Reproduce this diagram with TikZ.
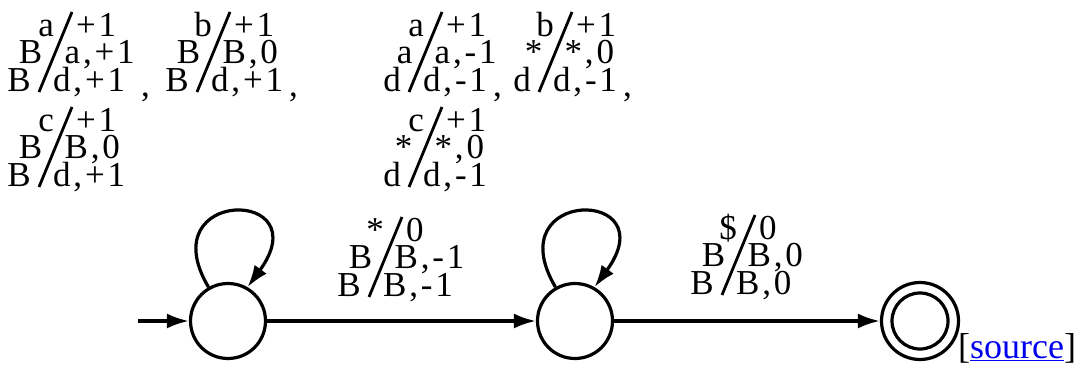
\documentclass[tikz,border=0pt]{standalone}
\usepackage{fontspec}
\setmainfont{Liberation Serif}
\usetikzlibrary{arrows.meta}
\definecolor{linkblue}{RGB}{0,0,238}
\tikzset{
  lblbase/.style={inner sep=0pt, font=\fontsize{35}{35}\selectfont},
  lft/.style={lblbase, anchor=base east},
  rgt/.style={lblbase, anchor=base west, font=\fontsize{35}{35}\selectfont\addfontfeature{LetterSpace=8}},
  slashline/.style={line width=2.8pt},
  stt/.style={circle, draw, line width=3.2pt, minimum size=75pt, inner sep=0pt},
  trans/.style={line width=3.2pt, -{Latex[length=22pt,width=15pt]}},
}
\newcommand{\tlab}[9]{%
  \draw[slashline] (#2,#3) coordinate (#1t) -- ++(-33,80) coordinate (#1b);
  \node[lft] (#1l1) at (#2-18,#3+25) {#4};
  \node[rgt] (#1r1) at (#2+4,#3+25) {#5};
  \node[lft] (#1l2) at (#2-29.5,#3+52) {#6};
  \node[rgt] (#1r2) at (#2-7.5,#3+52) {#7};
  \node[lft] (#1l3) at (#2-41,#3+80) {#8};
  \node[rgt] (#1r3) at (#2-19,#3+80) {#9};
}
\begin{document}
\begin{tikzpicture}[x=1pt,y=-1pt]
\useasboundingbox (0,0) rectangle (1079,371);
% loop labels
\tlab{ga}{72}{12}{a}{+1}{B}{a,+1}{B}{d,+1}
\tlab{gb}{230}{12}{b}{+1}{B}{B,0}{B}{d,+1}
\tlab{gc}{442}{12}{a}{+1}{a}{a,-1}{d}{d,-1}
\tlab{gd}{572}{12}{b}{+1}{*}{*,0}{d}{d,-1}
\tlab{ge}{72}{107}{c}{+1}{B}{B,0}{B}{d,+1}
\tlab{gf}{442}{107}{c}{+1}{*}{*,0}{d}{d,-1}
\node[rgt] (ca) at (141,97) {,};
\node[rgt] (cb) at (289,97) {,};
\node[rgt] (cc) at (493,97) {,};
\node[rgt] (cd) at (623,97) {,};
% edge labels
\tlab{ea}{402}{217}{*}{0}{B}{B,-1}{B}{B,-1}
\tlab{eb}{755}{215}{\$}{0}{B}{B,0}{B}{B,0}
% states
\node[stt] (s1) at (228,321) {};
\node[stt] (s2) at (575,321) {};
\node[stt, minimum size=77pt] (s3) at (920,321) {};
\node[stt, minimum size=56pt] (s3i) at (s3.center) {};
\coordinate (init) at (138,321);
\draw[trans] (init) -- (s1);
\draw[trans] (s1) -- (s2);
\draw[trans] (s2) -- (s3);
\draw[trans] (s1.120) .. controls +(-59,-100) and +(73,-100) .. (s1.60);
\draw[trans] (s2.120) .. controls +(-59,-100) and +(73,-100) .. (s2.60);
% source link
\node[anchor=base west, inner sep=0pt, font=\fontsize{36}{36}\selectfont] (src) at (958,358) {[\textcolor{linkblue}{\underline{source}}]};
\end{tikzpicture}
\end{document}
